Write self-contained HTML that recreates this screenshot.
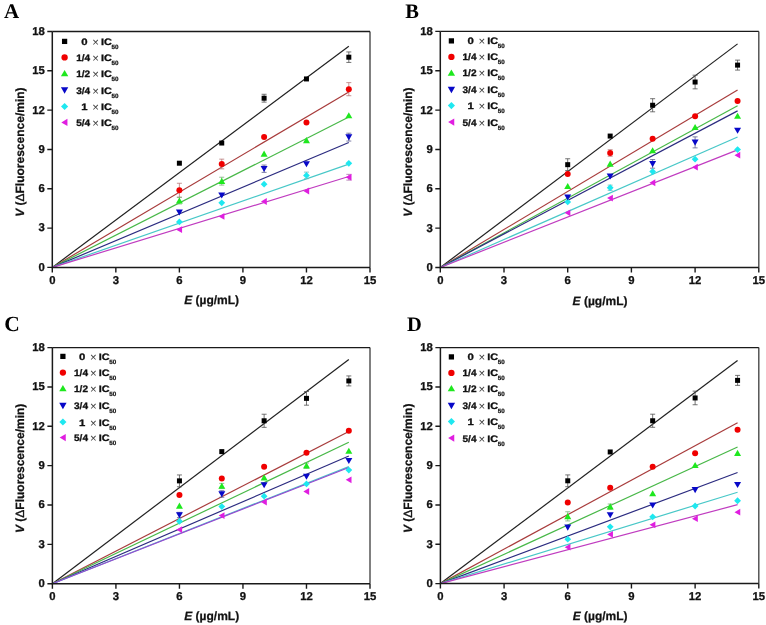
<!DOCTYPE html>
<html><head><meta charset="utf-8"><style>
html,body{margin:0;padding:0;background:#fff;}
svg{display:block;will-change:transform;}
text{text-rendering:geometricPrecision;}
.pl{font-family:"Liberation Serif", serif;font-weight:bold;fill:#000;}
.tl{font-family:"Liberation Sans", sans-serif;font-weight:bold;font-size:11.3px;fill:#111;stroke:#111;stroke-width:0.3px;}
.at{font-family:"Liberation Sans", sans-serif;font-weight:bold;font-size:12px;fill:#111;stroke:#111;stroke-width:0.25px;}
.lg{font-family:"Liberation Sans", sans-serif;font-weight:bold;font-size:9.3px;fill:#111;stroke:#111;stroke-width:0.3px;}
.lx{font-family:"Liberation Sans", sans-serif;font-size:11.5px;fill:#444;}
.ls{font-family:"Liberation Sans", sans-serif;font-weight:bold;font-size:6.2px;fill:#111;stroke:#111;stroke-width:0.2px;}
</style></head><body>
<svg width="766" height="625" viewBox="0 0 766 625">
<rect width="766" height="625" fill="#fff"/>
<text x="4.0" y="17.8" class="pl" font-size="21">A</text>
<line x1="52.30" y1="267.40" x2="348.82" y2="46.18" stroke="#202020" stroke-width="1.2"/>
<line x1="52.30" y1="267.40" x2="348.82" y2="91.92" stroke="#a83c3c" stroke-width="1.2"/>
<line x1="52.30" y1="267.40" x2="348.82" y2="116.95" stroke="#48b848" stroke-width="1.2"/>
<line x1="52.30" y1="267.40" x2="348.82" y2="142.50" stroke="#2c2c80" stroke-width="1.2"/>
<line x1="52.30" y1="267.40" x2="348.82" y2="164.13" stroke="#48c8c8" stroke-width="1.2"/>
<line x1="52.30" y1="267.40" x2="348.82" y2="176.45" stroke="#c03cc0" stroke-width="1.2"/>
<path d="M264.10,94.28V102.14M261.60,94.28H266.60M261.60,102.14H266.60" stroke="#505050" stroke-width="0.8" fill="none"/>
<path d="M348.82,51.94V62.43M346.32,51.94H351.32M346.32,62.43H351.32" stroke="#505050" stroke-width="0.8" fill="none"/>
<path d="M179.38,183.26V197.15M176.88,183.26H181.88M176.88,197.15H181.88" stroke="#b87878" stroke-width="0.8" fill="none"/>
<path d="M221.74,159.15V168.85M219.24,159.15H224.24M219.24,168.85H224.24" stroke="#b87878" stroke-width="0.8" fill="none"/>
<path d="M348.82,82.61V95.72M346.32,82.61H351.32M346.32,95.72H351.32" stroke="#b87878" stroke-width="0.8" fill="none"/>
<path d="M179.38,197.42V203.97M176.88,197.42H181.88M176.88,203.97H181.88" stroke="#78b078" stroke-width="0.8" fill="none"/>
<path d="M221.74,177.23V185.10M219.24,177.23H224.24M219.24,185.10H224.24" stroke="#78b078" stroke-width="0.8" fill="none"/>
<path d="M264.10,165.05V172.38M261.60,165.05H266.60M261.60,172.38H266.60" stroke="#606090" stroke-width="0.8" fill="none"/>
<path d="M348.82,133.20V141.06M346.32,133.20H351.32M346.32,141.06H351.32" stroke="#606090" stroke-width="0.8" fill="none"/>
<path d="M306.46,172.12V178.68M303.96,172.12H308.96M303.96,178.68H308.96" stroke="#70b8b8" stroke-width="0.8" fill="none"/>
<path d="M348.82,174.35V180.12M346.32,174.35H351.32M346.32,180.12H351.32" stroke="#b070b0" stroke-width="0.8" fill="none"/>
<path d="M176.28,229.66 L182.08,226.26 L182.08,233.06Z" fill="#e01ee0"/>
<path d="M218.64,216.42 L224.44,213.02 L224.44,219.82Z" fill="#e01ee0"/>
<path d="M261.00,201.48 L266.80,198.08 L266.80,204.88Z" fill="#e01ee0"/>
<path d="M303.36,190.99 L309.16,187.59 L309.16,194.39Z" fill="#e01ee0"/>
<path d="M345.72,177.23 L351.52,173.83 L351.52,180.63Z" fill="#e01ee0"/>
<path d="M179.38,218.52 L182.78,221.92 L179.38,225.32 L175.98,221.92Z" fill="#1ee8f0"/>
<path d="M221.74,199.39 L225.14,202.79 L221.74,206.19 L218.34,202.79Z" fill="#1ee8f0"/>
<path d="M264.10,180.78 L267.50,184.18 L264.10,187.58 L260.70,184.18Z" fill="#1ee8f0"/>
<path d="M306.46,172.00 L309.86,175.40 L306.46,178.80 L303.06,175.40Z" fill="#1ee8f0"/>
<path d="M348.82,159.94 L352.22,163.34 L348.82,166.74 L345.42,163.34Z" fill="#1ee8f0"/>
<path d="M179.38,215.53 L182.88,209.43 L175.88,209.43Z" fill="#0808c8"/>
<path d="M221.74,198.62 L225.24,192.52 L218.24,192.52Z" fill="#0808c8"/>
<path d="M264.10,172.02 L267.60,165.92 L260.60,165.92Z" fill="#0808c8"/>
<path d="M306.46,167.30 L309.96,161.20 L302.96,161.20Z" fill="#0808c8"/>
<path d="M348.82,140.43 L352.32,134.33 L345.32,134.33Z" fill="#0808c8"/>
<path d="M179.38,197.39 L182.88,203.49 L175.88,203.49Z" fill="#1ee81e"/>
<path d="M221.74,177.87 L225.24,183.97 L218.24,183.97Z" fill="#1ee81e"/>
<path d="M264.10,150.61 L267.60,156.71 L260.60,156.71Z" fill="#1ee81e"/>
<path d="M306.46,137.11 L309.96,143.21 L302.96,143.21Z" fill="#1ee81e"/>
<path d="M348.82,112.21 L352.32,118.31 L345.32,118.31Z" fill="#1ee81e"/>
<circle cx="179.38" cy="190.21" r="3.00" fill="#f00000"/>
<circle cx="221.74" cy="164.00" r="3.00" fill="#f00000"/>
<circle cx="264.10" cy="137.00" r="3.00" fill="#f00000"/>
<circle cx="306.46" cy="122.58" r="3.00" fill="#f00000"/>
<circle cx="348.82" cy="89.16" r="3.00" fill="#f00000"/>
<rect x="176.88" y="160.71" width="5.00" height="5.00" fill="#000000"/>
<rect x="219.24" y="140.53" width="5.00" height="5.00" fill="#000000"/>
<rect x="261.60" y="95.71" width="5.00" height="5.00" fill="#000000"/>
<rect x="303.96" y="76.44" width="5.00" height="5.00" fill="#000000"/>
<rect x="346.32" y="54.69" width="5.00" height="5.00" fill="#000000"/>
<path d="M370.00,31.50V267.40" stroke="#4a4a4a" stroke-width="1.4" fill="none"/>
<path d="M52.30,31.50H370.00" stroke="#1a1a1a" stroke-width="1.3" fill="none"/>
<path d="M52.30,31.50V267.40H370.00" stroke="#1a1a1a" stroke-width="1.5" fill="none"/>
<text x="44.80" y="270.80" class="tl" text-anchor="end">0</text>
<text x="44.80" y="231.48" class="tl" text-anchor="end">3</text>
<text x="44.80" y="192.17" class="tl" text-anchor="end">6</text>
<text x="44.80" y="152.85" class="tl" text-anchor="end">9</text>
<text x="44.80" y="113.53" class="tl" text-anchor="end">12</text>
<text x="44.80" y="74.22" class="tl" text-anchor="end">15</text>
<text x="44.80" y="34.90" class="tl" text-anchor="end">18</text>
<text x="52.30" y="284.30" class="tl" text-anchor="middle">0</text>
<text x="115.84" y="284.30" class="tl" text-anchor="middle">3</text>
<text x="179.38" y="284.30" class="tl" text-anchor="middle">6</text>
<text x="242.92" y="284.30" class="tl" text-anchor="middle">9</text>
<text x="306.46" y="284.30" class="tl" text-anchor="middle">12</text>
<text x="370.00" y="284.30" class="tl" text-anchor="middle">15</text>
<path d="M47.30,267.40H52.30M47.30,228.08H52.30M47.30,188.77H52.30M47.30,149.45H52.30M47.30,110.13H52.30M47.30,70.82H52.30M47.30,31.50H52.30M52.30,267.40V272.40M115.84,267.40V272.40M179.38,267.40V272.40M242.92,267.40V272.40M306.46,267.40V272.40M370.00,267.40V272.40" stroke="#1a1a1a" stroke-width="1.4" fill="none"/>
<text x="211.65" y="304.40" class="at" text-anchor="middle"><tspan font-style="italic">E</tspan> (µg/mL)</text>
<text transform="translate(23.70,152.15) rotate(-90)" class="at" text-anchor="middle"><tspan font-style="italic">V</tspan> (<tspan font-weight="normal" stroke-width="0.35">Δ</tspan>Fluorescence/min)</text>
<rect x="61.97" y="38.77" width="5.25" height="5.25" fill="#000000"/>
<text x="81.30" y="44.90" class="lg" textLength="6.3" lengthAdjust="spacingAndGlyphs">0</text>
<text x="92.20" y="45.90" class="lx">×</text>
<text x="101.00" y="44.90" class="lg" textLength="10.9" lengthAdjust="spacingAndGlyphs">IC</text>
<text x="111.40" y="48.90" class="ls" textLength="7.0" lengthAdjust="spacingAndGlyphs">50</text>
<circle cx="64.60" cy="57.40" r="3.15" fill="#f00000"/>
<text x="76.20" y="60.90" class="lg" textLength="14.0" lengthAdjust="spacingAndGlyphs">1/4</text>
<text x="92.20" y="61.90" class="lx">×</text>
<text x="101.00" y="60.90" class="lg" textLength="10.9" lengthAdjust="spacingAndGlyphs">IC</text>
<text x="111.40" y="64.90" class="ls" textLength="7.0" lengthAdjust="spacingAndGlyphs">50</text>
<path d="M64.60,69.94 L68.27,76.34 L60.92,76.34Z" fill="#1ee81e"/>
<text x="76.20" y="76.90" class="lg" textLength="14.0" lengthAdjust="spacingAndGlyphs">1/2</text>
<text x="92.20" y="77.90" class="lx">×</text>
<text x="101.00" y="76.90" class="lg" textLength="10.9" lengthAdjust="spacingAndGlyphs">IC</text>
<text x="111.40" y="80.90" class="ls" textLength="7.0" lengthAdjust="spacingAndGlyphs">50</text>
<path d="M64.60,93.67 L68.27,87.26 L60.92,87.26Z" fill="#0808c8"/>
<text x="76.20" y="93.70" class="lg" textLength="14.0" lengthAdjust="spacingAndGlyphs">3/4</text>
<text x="92.20" y="94.70" class="lx">×</text>
<text x="101.00" y="93.70" class="lg" textLength="10.9" lengthAdjust="spacingAndGlyphs">IC</text>
<text x="111.40" y="97.70" class="ls" textLength="7.0" lengthAdjust="spacingAndGlyphs">50</text>
<path d="M64.60,102.93 L68.17,106.50 L64.60,110.07 L61.03,106.50Z" fill="#1ee8f0"/>
<text x="81.30" y="110.00" class="lg" textLength="6.3" lengthAdjust="spacingAndGlyphs">1</text>
<text x="92.20" y="111.00" class="lx">×</text>
<text x="101.00" y="110.00" class="lg" textLength="10.9" lengthAdjust="spacingAndGlyphs">IC</text>
<text x="111.40" y="114.00" class="ls" textLength="7.0" lengthAdjust="spacingAndGlyphs">50</text>
<path d="M61.34,122.40 L67.43,118.83 L67.43,125.97Z" fill="#e01ee0"/>
<text x="76.20" y="125.90" class="lg" textLength="14.0" lengthAdjust="spacingAndGlyphs">5/4</text>
<text x="92.20" y="126.90" class="lx">×</text>
<text x="101.00" y="125.90" class="lg" textLength="10.9" lengthAdjust="spacingAndGlyphs">IC</text>
<text x="111.40" y="129.90" class="ls" textLength="7.0" lengthAdjust="spacingAndGlyphs">50</text>
<text x="405.2" y="17.7" class="pl" font-size="20.5">B</text>
<line x1="440.30" y1="267.50" x2="737.57" y2="43.86" stroke="#202020" stroke-width="1.2"/>
<line x1="440.30" y1="267.50" x2="737.57" y2="90.03" stroke="#a83c3c" stroke-width="1.2"/>
<line x1="440.30" y1="267.50" x2="737.57" y2="105.77" stroke="#48b848" stroke-width="1.2"/>
<line x1="440.30" y1="267.50" x2="737.57" y2="110.89" stroke="#2c2c80" stroke-width="1.2"/>
<line x1="440.30" y1="267.50" x2="737.57" y2="136.99" stroke="#48c8c8" stroke-width="1.2"/>
<line x1="440.30" y1="267.50" x2="737.57" y2="149.84" stroke="#c03cc0" stroke-width="1.2"/>
<path d="M567.70,158.76V170.57M565.20,158.76H570.20M565.20,170.57H570.20" stroke="#505050" stroke-width="0.8" fill="none"/>
<path d="M652.63,98.69V111.81M650.13,98.69H655.13M650.13,111.81H655.13" stroke="#505050" stroke-width="0.8" fill="none"/>
<path d="M695.10,75.21V88.85M692.60,75.21H697.60M692.60,88.85H697.60" stroke="#505050" stroke-width="0.8" fill="none"/>
<path d="M737.57,60.13V70.09M735.07,60.13H740.07M735.07,70.09H740.07" stroke="#505050" stroke-width="0.8" fill="none"/>
<path d="M610.17,149.71V156.27M607.67,149.71H612.67M607.67,156.27H612.67" stroke="#b87878" stroke-width="0.8" fill="none"/>
<path d="M652.63,159.55V168.21M650.13,159.55H655.13M650.13,168.21H655.13" stroke="#606090" stroke-width="0.8" fill="none"/>
<path d="M695.10,136.86V147.88M692.60,136.86H697.60M692.60,147.88H697.60" stroke="#606090" stroke-width="0.8" fill="none"/>
<path d="M610.17,185.13V190.37M607.67,185.13H612.67M607.67,190.37H612.67" stroke="#70b8b8" stroke-width="0.8" fill="none"/>
<path d="M564.60,212.80 L570.40,209.40 L570.40,216.20Z" fill="#e01ee0"/>
<path d="M607.07,198.11 L612.87,194.71 L612.87,201.51Z" fill="#e01ee0"/>
<path d="M649.53,182.77 L655.33,179.37 L655.33,186.17Z" fill="#e01ee0"/>
<path d="M692.00,167.16 L697.80,163.76 L697.80,170.56Z" fill="#e01ee0"/>
<path d="M734.47,155.22 L740.27,151.82 L740.27,158.62Z" fill="#e01ee0"/>
<path d="M567.70,198.52 L571.10,201.92 L567.70,205.32 L564.30,201.92Z" fill="#1ee8f0"/>
<path d="M610.17,184.35 L613.57,187.75 L610.17,191.15 L606.77,187.75Z" fill="#1ee8f0"/>
<path d="M652.63,168.22 L656.03,171.62 L652.63,175.02 L649.23,171.62Z" fill="#1ee8f0"/>
<path d="M695.10,155.76 L698.50,159.16 L695.10,162.56 L691.70,159.16Z" fill="#1ee8f0"/>
<path d="M737.57,146.18 L740.97,149.58 L737.57,152.98 L734.17,149.58Z" fill="#1ee8f0"/>
<path d="M567.70,200.49 L571.20,194.39 L564.20,194.39Z" fill="#0808c8"/>
<path d="M610.17,179.51 L613.67,173.41 L606.67,173.41Z" fill="#0808c8"/>
<path d="M652.63,167.18 L656.13,161.08 L649.13,161.08Z" fill="#0808c8"/>
<path d="M695.10,145.67 L698.60,139.57 L691.60,139.57Z" fill="#0808c8"/>
<path d="M737.57,133.86 L741.07,127.76 L734.07,127.76Z" fill="#0808c8"/>
<path d="M567.70,183.01 L571.20,189.11 L564.20,189.11Z" fill="#1ee81e"/>
<path d="M610.17,160.58 L613.67,166.68 L606.67,166.68Z" fill="#1ee81e"/>
<path d="M652.63,147.20 L656.13,153.30 L649.13,153.30Z" fill="#1ee81e"/>
<path d="M695.10,123.98 L698.60,130.08 L691.60,130.08Z" fill="#1ee81e"/>
<path d="M737.57,112.70 L741.07,118.80 L734.07,118.80Z" fill="#1ee81e"/>
<circle cx="567.70" cy="174.11" r="3.00" fill="#f00000"/>
<circle cx="610.17" cy="152.99" r="3.00" fill="#f00000"/>
<circle cx="652.63" cy="138.83" r="3.00" fill="#f00000"/>
<circle cx="695.10" cy="116.26" r="3.00" fill="#f00000"/>
<circle cx="737.57" cy="101.05" r="3.00" fill="#f00000"/>
<rect x="565.20" y="162.17" width="5.00" height="5.00" fill="#000000"/>
<rect x="607.67" y="133.57" width="5.00" height="5.00" fill="#000000"/>
<rect x="650.13" y="102.75" width="5.00" height="5.00" fill="#000000"/>
<rect x="692.60" y="79.53" width="5.00" height="5.00" fill="#000000"/>
<rect x="735.07" y="62.61" width="5.00" height="5.00" fill="#000000"/>
<path d="M758.80,31.40V267.50" stroke="#4a4a4a" stroke-width="1.4" fill="none"/>
<path d="M440.30,31.40H758.80" stroke="#1a1a1a" stroke-width="1.3" fill="none"/>
<path d="M440.30,31.40V267.50H758.80" stroke="#1a1a1a" stroke-width="1.5" fill="none"/>
<text x="432.80" y="270.90" class="tl" text-anchor="end">0</text>
<text x="432.80" y="231.55" class="tl" text-anchor="end">3</text>
<text x="432.80" y="192.20" class="tl" text-anchor="end">6</text>
<text x="432.80" y="152.85" class="tl" text-anchor="end">9</text>
<text x="432.80" y="113.50" class="tl" text-anchor="end">12</text>
<text x="432.80" y="74.15" class="tl" text-anchor="end">15</text>
<text x="432.80" y="34.80" class="tl" text-anchor="end">18</text>
<text x="440.30" y="284.40" class="tl" text-anchor="middle">0</text>
<text x="504.00" y="284.40" class="tl" text-anchor="middle">3</text>
<text x="567.70" y="284.40" class="tl" text-anchor="middle">6</text>
<text x="631.40" y="284.40" class="tl" text-anchor="middle">9</text>
<text x="695.10" y="284.40" class="tl" text-anchor="middle">12</text>
<text x="758.80" y="284.40" class="tl" text-anchor="middle">15</text>
<path d="M435.30,267.50H440.30M435.30,228.15H440.30M435.30,188.80H440.30M435.30,149.45H440.30M435.30,110.10H440.30M435.30,70.75H440.30M435.30,31.40H440.30M440.30,267.50V272.50M504.00,267.50V272.50M567.70,267.50V272.50M631.40,267.50V272.50M695.10,267.50V272.50M758.80,267.50V272.50" stroke="#1a1a1a" stroke-width="1.4" fill="none"/>
<text x="600.05" y="304.50" class="at" text-anchor="middle"><tspan font-style="italic">E</tspan> (µg/mL)</text>
<text transform="translate(411.70,152.15) rotate(-90)" class="at" text-anchor="middle"><tspan font-style="italic">V</tspan> (<tspan font-weight="normal" stroke-width="0.35">Δ</tspan>Fluorescence/min)</text>
<rect x="448.77" y="38.27" width="5.25" height="5.25" fill="#000000"/>
<text x="467.60" y="44.40" class="lg" textLength="6.3" lengthAdjust="spacingAndGlyphs">0</text>
<text x="478.50" y="45.40" class="lx">×</text>
<text x="487.30" y="44.40" class="lg" textLength="10.9" lengthAdjust="spacingAndGlyphs">IC</text>
<text x="497.70" y="48.40" class="ls" textLength="7.0" lengthAdjust="spacingAndGlyphs">50</text>
<circle cx="451.40" cy="56.90" r="3.15" fill="#f00000"/>
<text x="462.50" y="60.40" class="lg" textLength="14.0" lengthAdjust="spacingAndGlyphs">1/4</text>
<text x="478.50" y="61.40" class="lx">×</text>
<text x="487.30" y="60.40" class="lg" textLength="10.9" lengthAdjust="spacingAndGlyphs">IC</text>
<text x="497.70" y="64.40" class="ls" textLength="7.0" lengthAdjust="spacingAndGlyphs">50</text>
<path d="M451.40,69.44 L455.07,75.84 L447.72,75.84Z" fill="#1ee81e"/>
<text x="462.50" y="76.40" class="lg" textLength="14.0" lengthAdjust="spacingAndGlyphs">1/2</text>
<text x="478.50" y="77.40" class="lx">×</text>
<text x="487.30" y="76.40" class="lg" textLength="10.9" lengthAdjust="spacingAndGlyphs">IC</text>
<text x="497.70" y="80.40" class="ls" textLength="7.0" lengthAdjust="spacingAndGlyphs">50</text>
<path d="M451.40,93.17 L455.07,86.76 L447.72,86.76Z" fill="#0808c8"/>
<text x="462.50" y="93.20" class="lg" textLength="14.0" lengthAdjust="spacingAndGlyphs">3/4</text>
<text x="478.50" y="94.20" class="lx">×</text>
<text x="487.30" y="93.20" class="lg" textLength="10.9" lengthAdjust="spacingAndGlyphs">IC</text>
<text x="497.70" y="97.20" class="ls" textLength="7.0" lengthAdjust="spacingAndGlyphs">50</text>
<path d="M451.40,102.03 L454.97,105.60 L451.40,109.17 L447.83,105.60Z" fill="#1ee8f0"/>
<text x="467.60" y="109.10" class="lg" textLength="6.3" lengthAdjust="spacingAndGlyphs">1</text>
<text x="478.50" y="110.10" class="lx">×</text>
<text x="487.30" y="109.10" class="lg" textLength="10.9" lengthAdjust="spacingAndGlyphs">IC</text>
<text x="497.70" y="113.10" class="ls" textLength="7.0" lengthAdjust="spacingAndGlyphs">50</text>
<path d="M448.14,122.10 L454.23,118.53 L454.23,125.67Z" fill="#e01ee0"/>
<text x="462.50" y="125.60" class="lg" textLength="14.0" lengthAdjust="spacingAndGlyphs">5/4</text>
<text x="478.50" y="126.60" class="lx">×</text>
<text x="487.30" y="125.60" class="lg" textLength="10.9" lengthAdjust="spacingAndGlyphs">IC</text>
<text x="497.70" y="129.60" class="ls" textLength="7.0" lengthAdjust="spacingAndGlyphs">50</text>
<text x="4.2" y="330.6" class="pl" font-size="21.5">C</text>
<line x1="52.40" y1="583.70" x2="348.83" y2="359.41" stroke="#202020" stroke-width="1.2"/>
<line x1="52.40" y1="583.70" x2="348.83" y2="431.55" stroke="#a83c3c" stroke-width="1.2"/>
<line x1="52.40" y1="583.70" x2="348.83" y2="442.30" stroke="#48b848" stroke-width="1.2"/>
<line x1="52.40" y1="583.70" x2="348.83" y2="456.07" stroke="#2c2c80" stroke-width="1.2"/>
<line x1="52.40" y1="583.70" x2="348.83" y2="466.57" stroke="#48c8c8" stroke-width="1.2"/>
<line x1="52.40" y1="583.70" x2="348.83" y2="467.49" stroke="#9848d0" stroke-width="1.2"/>
<path d="M179.44,474.96V486.77M176.94,474.96H181.94M176.94,486.77H181.94" stroke="#505050" stroke-width="0.8" fill="none"/>
<path d="M264.13,414.23V427.35M261.63,414.23H266.63M261.63,427.35H266.63" stroke="#505050" stroke-width="0.8" fill="none"/>
<path d="M306.48,391.54V405.18M303.98,391.54H308.98M303.98,405.18H308.98" stroke="#505050" stroke-width="0.8" fill="none"/>
<path d="M348.83,375.93V385.90M346.33,375.93H351.33M346.33,385.90H351.33" stroke="#505050" stroke-width="0.8" fill="none"/>
<path d="M179.44,512.35V517.59M176.94,512.35H181.94M176.94,517.59H181.94" stroke="#606090" stroke-width="0.8" fill="none"/>
<path d="M221.79,483.36V488.60M219.29,483.36H224.29M219.29,488.60H224.29" stroke="#78b078" stroke-width="0.8" fill="none"/>
<path d="M221.79,490.70V497.26M219.29,490.70H224.29M219.29,497.26H224.29" stroke="#606090" stroke-width="0.8" fill="none"/>
<path d="M306.48,463.03V468.27M303.98,463.03H308.98M303.98,468.27H308.98" stroke="#78b078" stroke-width="0.8" fill="none"/>
<path d="M176.34,529.66 L182.14,526.26 L182.14,533.06Z" fill="#e01ee0"/>
<path d="M218.69,515.62 L224.49,512.22 L224.49,519.02Z" fill="#e01ee0"/>
<path d="M261.03,501.98 L266.83,498.58 L266.83,505.38Z" fill="#e01ee0"/>
<path d="M303.38,491.49 L309.18,488.09 L309.18,494.89Z" fill="#e01ee0"/>
<path d="M345.73,479.82 L351.53,476.42 L351.53,483.22Z" fill="#e01ee0"/>
<path d="M179.44,517.86 L182.84,521.26 L179.44,524.66 L176.04,521.26Z" fill="#1ee8f0"/>
<path d="M221.79,503.17 L225.19,506.57 L221.79,509.97 L218.39,506.57Z" fill="#1ee8f0"/>
<path d="M264.13,492.81 L267.53,496.21 L264.13,499.61 L260.73,496.21Z" fill="#1ee8f0"/>
<path d="M306.48,480.48 L309.88,483.88 L306.48,487.28 L303.08,483.88Z" fill="#1ee8f0"/>
<path d="M348.83,466.71 L352.23,470.11 L348.83,473.51 L345.43,470.11Z" fill="#1ee8f0"/>
<path d="M179.44,518.27 L182.94,512.17 L175.94,512.17Z" fill="#0808c8"/>
<path d="M221.79,497.28 L225.29,491.18 L218.29,491.18Z" fill="#0808c8"/>
<path d="M264.13,488.36 L267.63,482.26 L260.63,482.26Z" fill="#0808c8"/>
<path d="M306.48,479.84 L309.98,473.74 L302.98,473.74Z" fill="#0808c8"/>
<path d="M348.83,464.10 L352.33,458.00 L345.33,458.00Z" fill="#0808c8"/>
<path d="M179.44,502.62 L182.94,508.72 L175.94,508.72Z" fill="#1ee81e"/>
<path d="M221.79,482.68 L225.29,488.78 L218.29,488.78Z" fill="#1ee81e"/>
<path d="M264.13,474.29 L267.63,480.39 L260.63,480.39Z" fill="#1ee81e"/>
<path d="M306.48,462.35 L309.98,468.45 L302.98,468.45Z" fill="#1ee81e"/>
<path d="M348.83,447.66 L352.33,453.76 L345.33,453.76Z" fill="#1ee81e"/>
<circle cx="179.44" cy="495.03" r="3.00" fill="#f00000"/>
<circle cx="221.79" cy="478.50" r="3.00" fill="#f00000"/>
<circle cx="264.13" cy="466.70" r="3.00" fill="#f00000"/>
<circle cx="306.48" cy="452.80" r="3.00" fill="#f00000"/>
<circle cx="348.83" cy="430.76" r="3.00" fill="#f00000"/>
<rect x="176.94" y="478.37" width="5.00" height="5.00" fill="#000000"/>
<rect x="219.29" y="449.12" width="5.00" height="5.00" fill="#000000"/>
<rect x="261.63" y="418.29" width="5.00" height="5.00" fill="#000000"/>
<rect x="303.98" y="395.86" width="5.00" height="5.00" fill="#000000"/>
<rect x="346.33" y="378.42" width="5.00" height="5.00" fill="#000000"/>
<path d="M370.00,347.60V583.70" stroke="#4a4a4a" stroke-width="1.4" fill="none"/>
<path d="M52.40,347.60H370.00" stroke="#1a1a1a" stroke-width="1.3" fill="none"/>
<path d="M52.40,347.60V583.70H370.00" stroke="#1a1a1a" stroke-width="1.5" fill="none"/>
<text x="44.90" y="587.10" class="tl" text-anchor="end">0</text>
<text x="44.90" y="547.75" class="tl" text-anchor="end">3</text>
<text x="44.90" y="508.40" class="tl" text-anchor="end">6</text>
<text x="44.90" y="469.05" class="tl" text-anchor="end">9</text>
<text x="44.90" y="429.70" class="tl" text-anchor="end">12</text>
<text x="44.90" y="390.35" class="tl" text-anchor="end">15</text>
<text x="44.90" y="351.00" class="tl" text-anchor="end">18</text>
<text x="52.40" y="599.90" class="tl" text-anchor="middle">0</text>
<text x="115.92" y="599.90" class="tl" text-anchor="middle">3</text>
<text x="179.44" y="599.90" class="tl" text-anchor="middle">6</text>
<text x="242.96" y="599.90" class="tl" text-anchor="middle">9</text>
<text x="306.48" y="599.90" class="tl" text-anchor="middle">12</text>
<text x="370.00" y="599.90" class="tl" text-anchor="middle">15</text>
<path d="M47.40,583.70H52.40M47.40,544.35H52.40M47.40,505.00H52.40M47.40,465.65H52.40M47.40,426.30H52.40M47.40,386.95H52.40M47.40,347.60H52.40M52.40,583.70V588.70M115.92,583.70V588.70M179.44,583.70V588.70M242.96,583.70V588.70M306.48,583.70V588.70M370.00,583.70V588.70" stroke="#1a1a1a" stroke-width="1.4" fill="none"/>
<text x="211.70" y="620.00" class="at" text-anchor="middle"><tspan font-style="italic">E</tspan> (µg/mL)</text>
<text transform="translate(23.80,468.35) rotate(-90)" class="at" text-anchor="middle"><tspan font-style="italic">V</tspan> (<tspan font-weight="normal" stroke-width="0.35">Δ</tspan>Fluorescence/min)</text>
<rect x="60.27" y="353.77" width="5.25" height="5.25" fill="#000000"/>
<text x="79.10" y="359.90" class="lg" textLength="6.3" lengthAdjust="spacingAndGlyphs">0</text>
<text x="90.00" y="360.90" class="lx">×</text>
<text x="98.80" y="359.90" class="lg" textLength="10.9" lengthAdjust="spacingAndGlyphs">IC</text>
<text x="109.20" y="363.90" class="ls" textLength="7.0" lengthAdjust="spacingAndGlyphs">50</text>
<circle cx="62.90" cy="372.60" r="3.15" fill="#f00000"/>
<text x="74.00" y="376.10" class="lg" textLength="14.0" lengthAdjust="spacingAndGlyphs">1/4</text>
<text x="90.00" y="377.10" class="lx">×</text>
<text x="98.80" y="376.10" class="lg" textLength="10.9" lengthAdjust="spacingAndGlyphs">IC</text>
<text x="109.20" y="380.10" class="ls" textLength="7.0" lengthAdjust="spacingAndGlyphs">50</text>
<path d="M62.90,384.94 L66.58,391.34 L59.23,391.34Z" fill="#1ee81e"/>
<text x="74.00" y="391.90" class="lg" textLength="14.0" lengthAdjust="spacingAndGlyphs">1/2</text>
<text x="90.00" y="392.90" class="lx">×</text>
<text x="98.80" y="391.90" class="lg" textLength="10.9" lengthAdjust="spacingAndGlyphs">IC</text>
<text x="109.20" y="395.90" class="ls" textLength="7.0" lengthAdjust="spacingAndGlyphs">50</text>
<path d="M62.90,409.16 L66.58,402.76 L59.23,402.76Z" fill="#0808c8"/>
<text x="74.00" y="409.20" class="lg" textLength="14.0" lengthAdjust="spacingAndGlyphs">3/4</text>
<text x="90.00" y="410.20" class="lx">×</text>
<text x="98.80" y="409.20" class="lg" textLength="10.9" lengthAdjust="spacingAndGlyphs">IC</text>
<text x="109.20" y="413.20" class="ls" textLength="7.0" lengthAdjust="spacingAndGlyphs">50</text>
<path d="M62.90,418.43 L66.47,422.00 L62.90,425.57 L59.33,422.00Z" fill="#1ee8f0"/>
<text x="79.10" y="425.50" class="lg" textLength="6.3" lengthAdjust="spacingAndGlyphs">1</text>
<text x="90.00" y="426.50" class="lx">×</text>
<text x="98.80" y="425.50" class="lg" textLength="10.9" lengthAdjust="spacingAndGlyphs">IC</text>
<text x="109.20" y="429.50" class="ls" textLength="7.0" lengthAdjust="spacingAndGlyphs">50</text>
<path d="M59.64,437.60 L65.73,434.03 L65.73,441.17Z" fill="#e01ee0"/>
<text x="74.00" y="441.10" class="lg" textLength="14.0" lengthAdjust="spacingAndGlyphs">5/4</text>
<text x="90.00" y="442.10" class="lx">×</text>
<text x="98.80" y="441.10" class="lg" textLength="10.9" lengthAdjust="spacingAndGlyphs">IC</text>
<text x="109.20" y="445.10" class="ls" textLength="7.0" lengthAdjust="spacingAndGlyphs">50</text>
<text x="407.1" y="330.6" class="pl" font-size="20.5">D</text>
<line x1="440.40" y1="583.60" x2="737.57" y2="360.45" stroke="#202020" stroke-width="1.2"/>
<line x1="440.40" y1="583.60" x2="737.57" y2="422.73" stroke="#a83c3c" stroke-width="1.2"/>
<line x1="440.40" y1="583.60" x2="737.57" y2="446.98" stroke="#48b848" stroke-width="1.2"/>
<line x1="440.40" y1="583.60" x2="737.57" y2="472.55" stroke="#2c2c80" stroke-width="1.2"/>
<line x1="440.40" y1="583.60" x2="737.57" y2="492.22" stroke="#48c8c8" stroke-width="1.2"/>
<line x1="440.40" y1="583.60" x2="737.57" y2="504.67" stroke="#c03cc0" stroke-width="1.2"/>
<path d="M567.76,474.91V486.71M565.26,474.91H570.26M565.26,486.71H570.26" stroke="#505050" stroke-width="0.8" fill="none"/>
<path d="M652.67,414.20V427.32M650.17,414.20H655.17M650.17,427.32H655.17" stroke="#505050" stroke-width="0.8" fill="none"/>
<path d="M695.12,391.13V404.76M692.62,391.13H697.62M692.62,404.76H697.62" stroke="#505050" stroke-width="0.8" fill="none"/>
<path d="M737.57,375.40V385.36M735.07,375.40H740.07M735.07,385.36H740.07" stroke="#505050" stroke-width="0.8" fill="none"/>
<path d="M567.76,511.75V520.93M565.26,511.75H570.26M565.26,520.93H570.26" stroke="#78b078" stroke-width="0.8" fill="none"/>
<path d="M610.21,504.02V509.26M607.71,504.02H612.71M607.71,509.26H612.71" stroke="#78b078" stroke-width="0.8" fill="none"/>
<path d="M564.66,547.15 L570.46,543.75 L570.46,550.55Z" fill="#e01ee0"/>
<path d="M607.11,534.43 L612.91,531.03 L612.91,537.83Z" fill="#e01ee0"/>
<path d="M649.57,524.86 L655.37,521.46 L655.37,528.26Z" fill="#e01ee0"/>
<path d="M692.02,518.70 L697.82,515.30 L697.82,522.10Z" fill="#e01ee0"/>
<path d="M734.47,512.14 L740.27,508.74 L740.27,515.54Z" fill="#e01ee0"/>
<path d="M567.76,535.75 L571.16,539.15 L567.76,542.55 L564.36,539.15Z" fill="#1ee8f0"/>
<path d="M610.21,523.43 L613.61,526.83 L610.21,530.23 L606.81,526.83Z" fill="#1ee8f0"/>
<path d="M652.67,513.46 L656.07,516.86 L652.67,520.26 L649.27,516.86Z" fill="#1ee8f0"/>
<path d="M695.12,502.58 L698.52,505.98 L695.12,509.38 L691.72,505.98Z" fill="#1ee8f0"/>
<path d="M737.57,497.34 L740.97,500.74 L737.57,504.14 L734.17,500.74Z" fill="#1ee8f0"/>
<path d="M567.76,530.65 L571.26,524.55 L564.26,524.55Z" fill="#0808c8"/>
<path d="M610.21,518.33 L613.71,512.23 L606.71,512.23Z" fill="#0808c8"/>
<path d="M652.67,508.50 L656.17,502.40 L649.17,502.40Z" fill="#0808c8"/>
<path d="M695.12,493.16 L698.62,487.06 L691.62,487.06Z" fill="#0808c8"/>
<path d="M737.57,488.04 L741.07,481.94 L734.07,481.94Z" fill="#0808c8"/>
<path d="M567.76,513.04 L571.26,519.14 L564.26,519.14Z" fill="#1ee81e"/>
<path d="M610.21,503.34 L613.71,509.44 L606.71,509.44Z" fill="#1ee81e"/>
<path d="M652.67,490.23 L656.17,496.33 L649.17,496.33Z" fill="#1ee81e"/>
<path d="M695.12,461.91 L698.62,468.01 L691.62,468.01Z" fill="#1ee81e"/>
<path d="M737.57,449.84 L741.07,455.94 L734.07,455.94Z" fill="#1ee81e"/>
<circle cx="567.76" cy="502.44" r="3.00" fill="#f00000"/>
<circle cx="610.21" cy="487.63" r="3.00" fill="#f00000"/>
<circle cx="652.67" cy="466.65" r="3.00" fill="#f00000"/>
<circle cx="695.12" cy="453.14" r="3.00" fill="#f00000"/>
<circle cx="737.57" cy="429.68" r="3.00" fill="#f00000"/>
<rect x="565.26" y="478.31" width="5.00" height="5.00" fill="#000000"/>
<rect x="607.71" y="449.46" width="5.00" height="5.00" fill="#000000"/>
<rect x="650.17" y="418.26" width="5.00" height="5.00" fill="#000000"/>
<rect x="692.62" y="395.45" width="5.00" height="5.00" fill="#000000"/>
<rect x="735.07" y="377.88" width="5.00" height="5.00" fill="#000000"/>
<path d="M758.80,347.60V583.60" stroke="#4a4a4a" stroke-width="1.4" fill="none"/>
<path d="M440.40,347.60H758.80" stroke="#1a1a1a" stroke-width="1.3" fill="none"/>
<path d="M440.40,347.60V583.60H758.80" stroke="#1a1a1a" stroke-width="1.5" fill="none"/>
<text x="432.90" y="587.00" class="tl" text-anchor="end">0</text>
<text x="432.90" y="547.67" class="tl" text-anchor="end">3</text>
<text x="432.90" y="508.33" class="tl" text-anchor="end">6</text>
<text x="432.90" y="469.00" class="tl" text-anchor="end">9</text>
<text x="432.90" y="429.67" class="tl" text-anchor="end">12</text>
<text x="432.90" y="390.33" class="tl" text-anchor="end">15</text>
<text x="432.90" y="351.00" class="tl" text-anchor="end">18</text>
<text x="440.40" y="599.80" class="tl" text-anchor="middle">0</text>
<text x="504.08" y="599.80" class="tl" text-anchor="middle">3</text>
<text x="567.76" y="599.80" class="tl" text-anchor="middle">6</text>
<text x="631.44" y="599.80" class="tl" text-anchor="middle">9</text>
<text x="695.12" y="599.80" class="tl" text-anchor="middle">12</text>
<text x="758.80" y="599.80" class="tl" text-anchor="middle">15</text>
<path d="M435.40,583.60H440.40M435.40,544.27H440.40M435.40,504.93H440.40M435.40,465.60H440.40M435.40,426.27H440.40M435.40,386.93H440.40M435.40,347.60H440.40M440.40,583.60V588.60M504.08,583.60V588.60M567.76,583.60V588.60M631.44,583.60V588.60M695.12,583.60V588.60M758.80,583.60V588.60" stroke="#1a1a1a" stroke-width="1.4" fill="none"/>
<text x="600.10" y="619.90" class="at" text-anchor="middle"><tspan font-style="italic">E</tspan> (µg/mL)</text>
<text transform="translate(411.80,468.30) rotate(-90)" class="at" text-anchor="middle"><tspan font-style="italic">V</tspan> (<tspan font-weight="normal" stroke-width="0.35">Δ</tspan>Fluorescence/min)</text>
<rect x="448.77" y="354.27" width="5.25" height="5.25" fill="#000000"/>
<text x="467.60" y="360.40" class="lg" textLength="6.3" lengthAdjust="spacingAndGlyphs">0</text>
<text x="478.50" y="361.40" class="lx">×</text>
<text x="487.30" y="360.40" class="lg" textLength="10.9" lengthAdjust="spacingAndGlyphs">IC</text>
<text x="497.70" y="364.40" class="ls" textLength="7.0" lengthAdjust="spacingAndGlyphs">50</text>
<circle cx="451.40" cy="372.90" r="3.15" fill="#f00000"/>
<text x="462.50" y="376.40" class="lg" textLength="14.0" lengthAdjust="spacingAndGlyphs">1/4</text>
<text x="478.50" y="377.40" class="lx">×</text>
<text x="487.30" y="376.40" class="lg" textLength="10.9" lengthAdjust="spacingAndGlyphs">IC</text>
<text x="497.70" y="380.40" class="ls" textLength="7.0" lengthAdjust="spacingAndGlyphs">50</text>
<path d="M451.40,384.94 L455.07,391.34 L447.72,391.34Z" fill="#1ee81e"/>
<text x="462.50" y="391.90" class="lg" textLength="14.0" lengthAdjust="spacingAndGlyphs">1/2</text>
<text x="478.50" y="392.90" class="lx">×</text>
<text x="487.30" y="391.90" class="lg" textLength="10.9" lengthAdjust="spacingAndGlyphs">IC</text>
<text x="497.70" y="395.90" class="ls" textLength="7.0" lengthAdjust="spacingAndGlyphs">50</text>
<path d="M451.40,409.16 L455.07,402.76 L447.72,402.76Z" fill="#0808c8"/>
<text x="462.50" y="409.20" class="lg" textLength="14.0" lengthAdjust="spacingAndGlyphs">3/4</text>
<text x="478.50" y="410.20" class="lx">×</text>
<text x="487.30" y="409.20" class="lg" textLength="10.9" lengthAdjust="spacingAndGlyphs">IC</text>
<text x="497.70" y="413.20" class="ls" textLength="7.0" lengthAdjust="spacingAndGlyphs">50</text>
<path d="M451.40,418.03 L454.97,421.60 L451.40,425.17 L447.83,421.60Z" fill="#1ee8f0"/>
<text x="467.60" y="425.10" class="lg" textLength="6.3" lengthAdjust="spacingAndGlyphs">1</text>
<text x="478.50" y="426.10" class="lx">×</text>
<text x="487.30" y="425.10" class="lg" textLength="10.9" lengthAdjust="spacingAndGlyphs">IC</text>
<text x="497.70" y="429.10" class="ls" textLength="7.0" lengthAdjust="spacingAndGlyphs">50</text>
<path d="M448.14,438.10 L454.23,434.53 L454.23,441.67Z" fill="#e01ee0"/>
<text x="462.50" y="441.60" class="lg" textLength="14.0" lengthAdjust="spacingAndGlyphs">5/4</text>
<text x="478.50" y="442.60" class="lx">×</text>
<text x="487.30" y="441.60" class="lg" textLength="10.9" lengthAdjust="spacingAndGlyphs">IC</text>
<text x="497.70" y="445.60" class="ls" textLength="7.0" lengthAdjust="spacingAndGlyphs">50</text>
</svg>
</body></html>
